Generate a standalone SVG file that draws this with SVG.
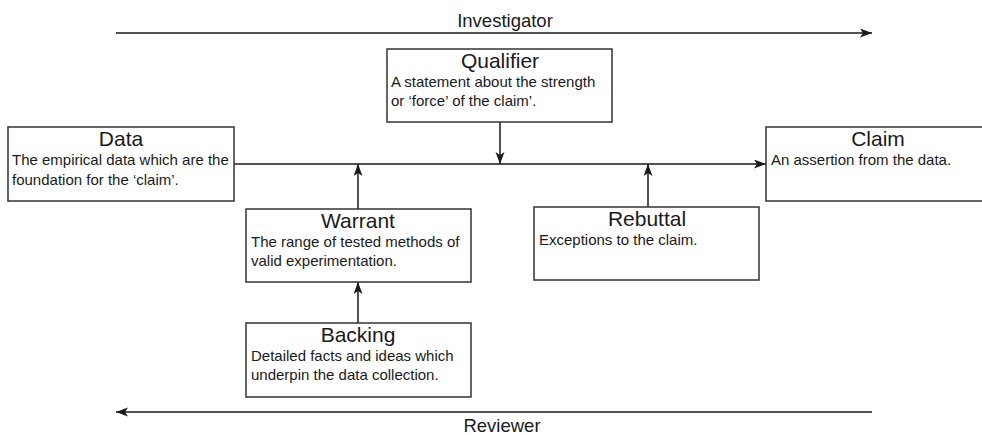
<svg xmlns="http://www.w3.org/2000/svg" width="982" height="435" viewBox="0 0 982 435">
  <style>
    .box { fill: #ffffff; stroke: #333333; stroke-width: 1.5; }
    .title { font-family: "Liberation Sans", Arial, sans-serif; font-size: 21px; fill: #1a1a1a; text-anchor: middle; }
    .body { font-family: "Liberation Sans", Arial, sans-serif; font-size: 15px; fill: #1a1a1a; }
    .side { font-family: "Liberation Sans", Arial, sans-serif; font-size: 18.5px; fill: #1a1a1a; text-anchor: middle; }
    .conn { fill: none; stroke: #1a1a1a; stroke-width: 1.5; }
  </style>
  <defs>
    <marker id="arrow" markerUnits="userSpaceOnUse" markerWidth="13" markerHeight="10" refX="12" refY="4.5" orient="auto">
      <path d="M0,0 L12,4.5 L0,9 L3,4.5 z" fill="#1a1a1a"/>
    </marker>
  </defs>
  <rect width="982" height="435" fill="#ffffff"/>

  <!-- direction of argument: investigator / reviewer -->
  <g id="investigator">
    <text class="side" x="505" y="27">Investigator</text>
    <line class="conn" x1="116" y1="33" x2="872" y2="33" marker-end="url(#arrow)"/>
  </g>
  <g id="reviewer">
    <line class="conn" x1="872" y1="412" x2="116" y2="412" marker-end="url(#arrow)"/>
    <text class="side" x="502" y="432">Reviewer</text>
  </g>

  <!-- connectors -->
  <g id="connectors">
    <line class="conn" x1="234" y1="164" x2="766" y2="164" marker-end="url(#arrow)"/>
    <line class="conn" x1="500" y1="122" x2="500" y2="164" marker-end="url(#arrow)"/>
    <line class="conn" x1="358" y1="209" x2="358" y2="164" marker-end="url(#arrow)"/>
    <line class="conn" x1="648" y1="207" x2="648" y2="164" marker-end="url(#arrow)"/>
    <line class="conn" x1="358" y1="323" x2="358" y2="282" marker-end="url(#arrow)"/>
  </g>

  <g id="qualifier">
    <rect class="box" x="387" y="49" width="225" height="73"/>
    <text class="title" x="500" y="68">Qualifier</text>
    <text class="body" x="391" y="87">A statement about the strength</text>
    <text class="body" x="391" y="106">or ‘force’ of the claim’.</text>
  </g>

  <g id="data">
    <rect class="box" x="8" y="127" width="226" height="74"/>
    <text class="title" x="121" y="146">Data</text>
    <text class="body" x="12" y="165">The empirical data which are the</text>
    <text class="body" x="12" y="185">foundation for the ‘claim’.</text>
  </g>

  <g id="claim">
    <rect class="box" x="766" y="127" width="222" height="74"/>
    <text class="title" x="878" y="146">Claim</text>
    <text class="body" x="771" y="165">An assertion from the data.</text>
  </g>

  <g id="warrant">
    <rect class="box" x="246" y="209" width="225" height="73"/>
    <text class="title" x="358" y="228">Warrant</text>
    <text class="body" x="251" y="247">The range of tested methods of</text>
    <text class="body" x="251" y="266">valid experimentation.</text>
  </g>

  <g id="rebuttal">
    <rect class="box" x="534" y="207" width="225" height="73"/>
    <text class="title" x="647" y="226">Rebuttal</text>
    <text class="body" x="539" y="245">Exceptions to the claim.</text>
  </g>

  <g id="backing">
    <rect class="box" x="246" y="323" width="225" height="74"/>
    <text class="title" x="358" y="342">Backing</text>
    <text class="body" x="251" y="361">Detailed facts and ideas which</text>
    <text class="body" x="251" y="380">underpin the data collection.</text>
  </g>
</svg>
